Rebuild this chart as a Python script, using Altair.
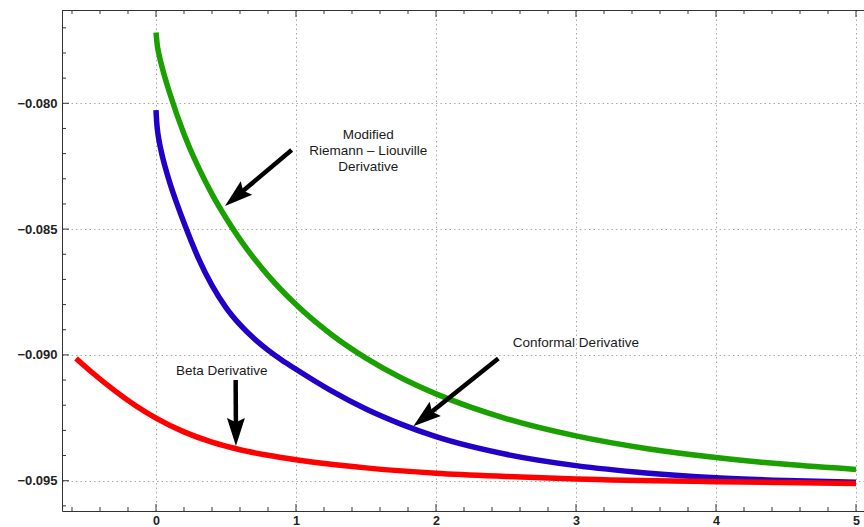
import altair as alt
import pandas as pd

# ---- curve data ----
green_x = [0.0, 0.01, 0.02, 0.05, 0.075, 0.1, 0.2, 0.3, 0.4, 0.5, 0.6, 0.8, 1.0, 1.25, 1.5, 1.75, 2.0,
           2.5, 3.0, 3.5, 4.0, 4.5, 5.0]
green_y = [-0.07719, -0.07773, -0.07802, -0.07870, -0.07918, -0.07963, -0.08122, -0.08251, -0.08361, -0.08456,
           -0.08541, -0.08684, -0.08800, -0.08918, -0.09013, -0.09091, -0.09155, -0.09253, -0.09322, -0.09372,
           -0.09408, -0.09435, -0.09455]

blue_x = [0.0, 0.005, 0.01, 0.02, 0.035, 0.05, 0.075, 0.1, 0.15, 0.2, 0.3, 0.4, 0.5, 0.6, 0.7, 0.8, 0.9, 1.0,
          1.25, 1.5, 1.75, 2.0, 2.5, 3.0, 3.5, 4.0, 4.5, 5.0]
blue_y = [-0.08027, -0.08075, -0.08104, -0.08143, -0.08185, -0.08221, -0.08272, -0.08318, -0.08400, -0.08475,
          -0.08612, -0.08724, -0.08812, -0.08880, -0.08935, -0.08981, -0.09021, -0.09057, -0.09142, -0.09215,
          -0.09275, -0.09325, -0.09395, -0.09440, -0.09469, -0.09488, -0.09499, -0.09506]

red_x = [-0.571, -0.45, -0.3, -0.15, 0.0, 0.2, 0.4, 0.6, 0.8, 1.0, 1.5, 2.0, 2.5, 3.0, 4.0, 5.0]
red_y = [-0.09014, -0.09073, -0.09140, -0.09200, -0.09251, -0.09306, -0.09347, -0.09377, -0.09399, -0.09417,
         -0.09449, -0.09470, -0.09483, -0.09493, -0.09504, -0.09511]

# ---- axes ----
x_major = [0, 1, 2, 3, 4, 5]
y_major = [-0.095, -0.090, -0.085, -0.080]
x_minor = [-0.6, -0.4, -0.2, 0.2, 0.4, 0.6, 0.8, 1.2, 1.4, 1.6, 1.8, 2.2, 2.4, 2.6, 2.8,
           3.2, 3.4, 3.6, 3.8, 4.2, 4.4, 4.6, 4.8]
y_minor = [-0.096, -0.094, -0.093, -0.092, -0.091, -0.089, -0.088, -0.087, -0.086,
           -0.084, -0.083, -0.082, -0.081, -0.079, -0.078, -0.077]
x_domain = [-0.6714, 5.0571]
y_domain = [-0.096204, -0.076292]

# ---- annotations ----
arrow_tail_x = [0.969, 2.445, 0.569]
arrow_tail_y = [-0.081856, -0.090147, -0.090997]
arrow_mid_x = [0.576, 1.927, 0.571]
arrow_mid_y = [-0.083696, -0.092444, -0.093144]
arrow_tip_x = [0.493, 1.838, 0.571]
arrow_tip_y = [-0.084082, -0.092838, -0.093621]
arrow_angle = [230, 231.5, 180]

label_text = ["Modified", "Riemann \u2013 Liouville", "Derivative", "Conformal Derivative", "Beta Derivative"]
label_x = [1.516, 1.516, 1.516, 2.999, 0.469]
label_y = [-0.08126, -0.081896, -0.082532, -0.089539, -0.09064]

W, H = 802, 501
FONT = "Liberation Sans"

xs = alt.Scale(domain=x_domain, nice=False, zero=False)
ys = alt.Scale(domain=y_domain, nice=False, zero=False)

x_axis = alt.Axis(values=x_major, format="d", title=None, ticks=False, domain=True, domainColor="#333333",
                  grid=True, gridDash=[1.5, 3], gridColor="#a8a8a8", labelFont=FONT, labelFontSize=12.5,
                  labelFontWeight="bold", labelColor="#222222", labelPadding=3)
y_axis = alt.Axis(values=y_major, format=".3f", title=None, ticks=False, domain=True, domainColor="#333333",
                  grid=True, gridDash=[1.5, 3], gridColor="#a8a8a8", labelFont=FONT, labelFontSize=13,
                  labelFontWeight="bold", labelColor="#222222", labelPadding=5)


def X(field):
    return alt.X(field, scale=xs, axis=x_axis)


def Y(field):
    return alt.Y(field, scale=ys, axis=y_axis)


def line_layer(xv, yv, color):
    df = pd.DataFrame({"x": xv, "y": yv})
    return alt.Chart(df).mark_line(strokeWidth=5.5, interpolate="monotone", strokeCap="butt", color=color).encode(
        x=X("x:Q"), y=Y("y:Q"))


green = line_layer(green_x, green_y, "#1aa000")
blue = line_layer(blue_x, blue_y, "#2200c8")
red = line_layer(red_x, red_y, "#ff0000")


# inward ticks
def xticks(vals, length, top):
    df = pd.DataFrame({"x": vals})
    if top:
        y0, y1 = 0, length
    else:
        y0, y1 = H, H - length
    return alt.Chart(df).mark_rule(color="#333333", strokeWidth=1).encode(
        x=X("x:Q"), y=alt.value(y0), y2=alt.value(y1))


def yticks(vals, length):
    df = pd.DataFrame({"y": vals})
    return alt.Chart(df).mark_rule(color="#333333", strokeWidth=1).encode(
        y=Y("y:Q"), x=alt.value(0), x2=alt.value(length))


top_frame = alt.Chart(pd.DataFrame({"x": [0]})).mark_rule(color="#333333", strokeWidth=1).encode(
    x=alt.value(0), x2=alt.value(W), y=alt.value(0.5))

arrows_df = pd.DataFrame({
    "tx": arrow_tail_x, "ty": arrow_tail_y,
    "mx": arrow_mid_x, "my": arrow_mid_y,
    "px": arrow_tip_x, "py": arrow_tip_y,
    "angle": arrow_angle,
})
shafts = alt.Chart(arrows_df).mark_rule(color="black", strokeWidth=4.5).encode(
    x=X("tx:Q"), y=Y("ty:Q"), x2="mx:Q", y2="my:Q")
heads = alt.Chart(arrows_df).mark_point(
    shape="M0,0L-0.64,2L0,1.7L0.64,2Z", size=784, filled=True, opacity=1, color="black", strokeWidth=0
).encode(x=X("px:Q"), y=Y("py:Q"), angle=alt.Angle("angle:Q", scale=None))

labels_df = pd.DataFrame({"x": label_x, "y": label_y, "t": label_text})
labels = alt.Chart(labels_df).mark_text(font=FONT, fontSize=13.5, color="#1a1a1a", align="center",
                                        baseline="middle").encode(
    x=X("x:Q"), y=Y("y:Q"), text="t:N")

chart = alt.layer(
    green, blue, red,
    xticks(x_major, 7, False), xticks(x_minor, 4, False),
    xticks(x_major, 7, True), xticks(x_minor, 4, True),
    yticks(y_major, 7), yticks(y_minor, 4),
    top_frame, shafts, heads, labels,
).properties(
    width=W, height=H,
    autosize=alt.AutoSizeParams(type="none"),
    padding={"left": 62, "top": 10, "right": 0, "bottom": 16},
).configure_view(stroke=None).configure(background="white")

chart.save("out.html", embed_options={"renderer": "svg", "actions": False})
